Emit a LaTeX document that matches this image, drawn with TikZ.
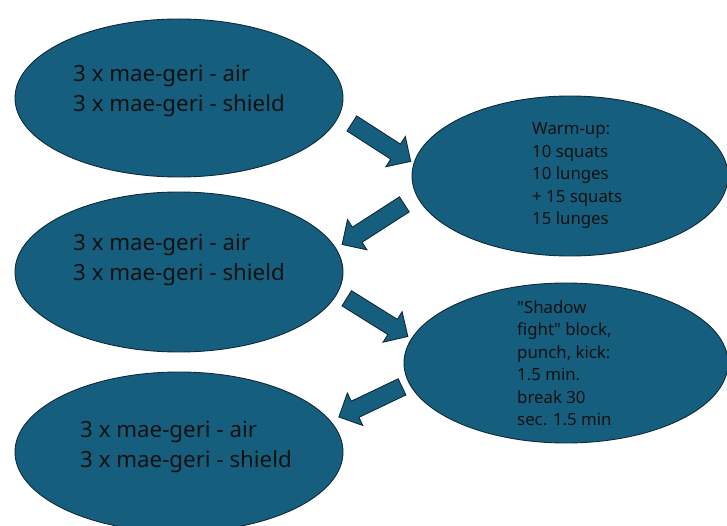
\documentclass[tikz,border=0pt]{standalone}
\usepackage{fontspec}
\setmainfont{Noto Sans}
\usetikzlibrary{shapes.geometric,shapes.arrows}
\definecolor{teal}{RGB}{22,94,126}
\definecolor{rim}{RGB}{16,42,58}
\definecolor{ink}{RGB}{17,17,17}
\tikzset{
  bubble/.style={ellipse, draw=rim, line width=0.9pt, fill=teal, inner sep=0pt},
  % text nodes are placed by the baseline of their last line
  bigtext/.style={anchor=base west, align=left, inner sep=0pt, text=ink,
    font=\fontsize{22.3}{30}\selectfont},
  smalltext/.style={anchor=base west, align=left, inner sep=0pt, text=ink,
    font=\fontsize{16.8}{22.5}\selectfont},
  blockarrow/.style={single arrow, draw=rim, line width=0.9pt, fill=teal,
    inner xsep=0pt, inner ysep=8.5pt, single arrow head extend=9pt,
    single arrow tip angle=90, minimum width=35pt}
}
\begin{document}
\begin{tikzpicture}[x=1pt,y=1pt]
\useasboundingbox (0,0) rectangle (727,525);
% ellipses
\node[bubble, minimum width=328pt, minimum height=158pt] (e1) at (179,427) {};
\node[bubble, minimum width=316pt, minimum height=160pt] (e2) at (570,349) {};
\node[bubble, minimum width=328pt, minimum height=160pt] (e3) at (179,253) {};
\node[bubble, minimum width=324pt, minimum height=160pt] (e4) at (566,162) {};
\node[bubble, minimum width=328pt, minimum height=160pt] (e5) at (179,73) {};
% texts
\node[bigtext] (t1) at (73,413) {3 x mae-geri - air\\3 x mae-geri - shield};
\node[smalltext] (t2) at (532,300) {Warm-up:\\10 squats\\10 lunges\\+ 15 squats\\15 lunges};
\node[bigtext] (t3) at (73,244) {3 x mae-geri - air\\3 x mae-geri - shield};
\node[smalltext] (t4) at (517,99.5) {\textquotedbl Shadow\\fight\textquotedbl\ block,\\punch, kick:\\1.5 min.\\break 30\\sec. 1.5 min};
\node[bigtext] (t5) at (80,58) {3 x mae-geri - air\\3 x mae-geri - shield};
% block arrows
\node[blockarrow, minimum height=70pt, rotate=-32.8] (a1) at (377.5,385) {};
\node[blockarrow, minimum height=74pt, rotate=212.8] (a2) at (377,303) {};
\node[blockarrow, minimum height=72pt, rotate=-32] (a3) at (373.5,210) {};
\node[blockarrow, minimum height=70pt, rotate=205.5] (a4) at (374.5,125) {};
\end{tikzpicture}
\end{document}
